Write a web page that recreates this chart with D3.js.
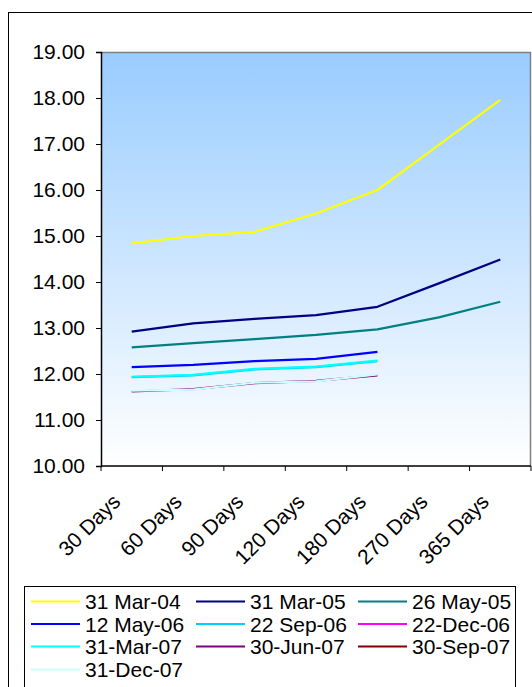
<!DOCTYPE html>
<html>
<head>
<meta charset="utf-8">
<script src="https://cdn.jsdelivr.net/npm/d3@7"></script>
<style>
  html, body { margin: 0; padding: 0; background: #fff; }
  svg { display: block; }
  text { font-family: "Liberation Sans", Arial, sans-serif; fill: #000; }
</style>
</head>
<body>
<svg id="chart" width="532" height="687"></svg>
<script>
// Term structure by tenor, one series per observation date
const categories = ["30 Days", "60 Days", "90 Days", "120 Days", "180 Days", "270 Days", "365 Days"];
const seriesNames = ["31 Mar-04", "31 Mar-05", "26 May-05", "12 May-06", "22 Sep-06",
                     "22-Dec-06", "31-Mar-07", "30-Jun-07", "30-Sep-07", "31-Dec-07"];
const seriesColors = ["#FFFF00", "#000080", "#008080", "#0000FF", "#00CCFF",
                      "#FF00FF", "#00FFFF", "#800080", "#800000", "#CCFFFF"];

const mar04 = [14.84, 15.00, 15.09, 15.49, 16.00, 16.98, 17.96];
const mar05 = [12.92, 13.10, 13.20, 13.28, 13.46, 13.97, 14.49];
const may05 = [12.58, 12.67, 12.76, 12.85, 12.97, 13.23, 13.57];
const may06 = [12.15, 12.20, 12.28, 12.33, 12.48, null, null];
const sep06 = [11.93, 11.97, 12.10, 12.15, 12.28, null, null];
const dec06 = [null, null, null, null, null, null, null];
const mar07 = [11.94, 11.98, 12.11, 12.16, 12.29, null, null];
const jun07 = [11.62, 11.67, 11.80, 11.85, 11.97, null, null];
const sep07 = [null, null, null, null, null, null, null];
const dec07 = [11.64, 11.66, 11.81, 11.84, 11.99, null, null];
const seriesValues = [mar04, mar05, may05, may06, sep06, dec06, mar07, jun07, sep07, dec07];

const yTicks = [10, 11, 12, 13, 14, 15, 16, 17, 18, 19];

const svg = d3.select("#chart");
const plot = { left: 101, top: 52, right: 531, bottom: 466 };
const fontSize = 21;

// outer chart frame
svg.append("rect")
  .attr("x", 8.5).attr("y", 12.5)
  .attr("width", 560).attr("height", 700)
  .attr("fill", "#fff").attr("stroke", "#000").attr("stroke-width", 1);

// plot background gradient
const defs = svg.append("defs");
const grad = defs.append("linearGradient")
  .attr("id", "bg").attr("x1", 0).attr("y1", 0).attr("x2", 0).attr("y2", 1);
grad.append("stop").attr("offset", "0%").attr("stop-color", "#99CCFF");
grad.append("stop").attr("offset", "100%").attr("stop-color", "#FFFFFF");

const x = d3.scaleBand().domain(categories).range([plot.left, plot.right]);
const y = d3.scaleLinear().domain([10, 19]).range([plot.bottom, plot.top]);

svg.append("rect")
  .attr("x", plot.left).attr("y", plot.top)
  .attr("width", plot.right - plot.left).attr("height", plot.bottom - plot.top)
  .attr("fill", "url(#bg)");

// gray frame on top and right
svg.append("path")
  .attr("d", `M${plot.left},${plot.top + 0.5}H${plot.right - 0.5}V${plot.bottom}`)
  .attr("fill", "none").attr("stroke", "#808080").attr("stroke-width", 1.5);

// series lines
const line = d3.line()
  .defined(d => d.v != null)
  .x(d => x(d.c) + x.bandwidth() / 2)
  .y(d => y(d.v));

seriesValues.forEach((vals, i) => {
  const pts = vals.map((v, j) => ({ c: categories[j], v }));
  if (!pts.some(p => p.v != null)) return;
  svg.append("path")
    .datum(pts)
    .attr("d", line)
    .attr("fill", "none")
    .attr("stroke", seriesColors[i])
    .attr("stroke-width", 2.2)
    .attr("stroke-linejoin", "round");
});

// value axis
const yAxis = svg.append("g")
  .attr("transform", `translate(${plot.left},0)`)
  .call(d3.axisLeft(y).tickValues(yTicks).tickFormat(d3.format(".2f")).tickSize(5).tickPadding(11));
yAxis.select(".domain").attr("stroke", "#000").attr("stroke-width", 1.5);
yAxis.selectAll(".tick line").attr("stroke", "#000");
yAxis.selectAll("text").attr("font-size", fontSize).attr("font-family", "Liberation Sans, Arial, sans-serif");

// category axis: ticks at band edges, rotated labels at band centres
const edges = categories.map(c => x(c)).concat([x.range()[1]]);
const xAxis = svg.append("g");
xAxis.append("line")
  .attr("x1", plot.left).attr("x2", plot.right)
  .attr("y1", plot.bottom).attr("y2", plot.bottom)
  .attr("stroke", "#000").attr("stroke-width", 1.5);
xAxis.selectAll("line.tick").data(edges).join("line")
  .attr("class", "tick")
  .attr("x1", d => d).attr("x2", d => d)
  .attr("y1", plot.bottom).attr("y2", plot.bottom + 5)
  .attr("stroke", "#000");
xAxis.selectAll("text").data(categories).join("text")
  .attr("font-size", fontSize)
  .attr("text-anchor", "end")
  .attr("transform", d => `translate(${x(d) + x.bandwidth() / 2 - 10},${plot.bottom + 37}) rotate(-45)`)
  .text(d => d);

// legend
const legend = svg.append("g");
legend.append("rect")
  .attr("x", 24.5).attr("y", 586.5)
  .attr("width", 491).attr("height", 120)
  .attr("fill", "#fff").attr("stroke", "#000").attr("stroke-width", 1);
const colX = [31, 196, 358];
const rowY = [601.5, 624, 646.5, 669.5];
seriesNames.forEach((name, i) => {
  const cx = colX[i % 3], cy = rowY[Math.floor(i / 3)];
  legend.append("line")
    .attr("x1", cx).attr("x2", cx + 49)
    .attr("y1", cy).attr("y2", cy)
    .attr("stroke", seriesColors[i]).attr("stroke-width", 2);
  legend.append("text")
    .attr("x", cx + 54).attr("y", cy + 7.5)
    .attr("font-size", fontSize)
    .text(name);
});
</script>
</body>
</html>
